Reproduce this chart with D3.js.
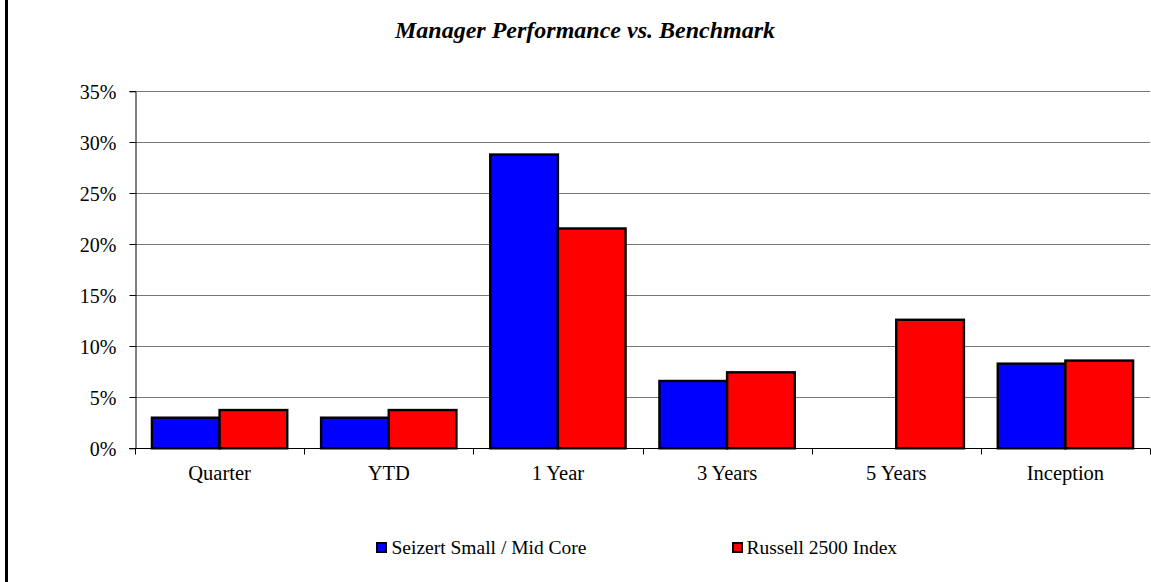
<!DOCTYPE html>
<html>
<head>
<meta charset="utf-8">
<script src="https://cdn.jsdelivr.net/npm/d3@7"></script>
<style>
  html, body { margin: 0; padding: 0; background: #fff; }
  svg { display: block; }
  text { font-family: "Liberation Serif", "Times New Roman", serif; fill: #000; }
</style>
</head>
<body>
<svg id="chart" width="1151" height="582"></svg>
<script>
const categories = ["Quarter", "YTD", "1 Year", "3 Years", "5 Years", "Inception"];
const seriesNames = ["Seizert Small / Mid Core", "Russell 2500 Index"];
const seizertValues = [3.0, 3.0, 28.8, 6.6, null, 8.3];
const russellValues = [3.75, 3.75, 21.55, 7.45, 12.6, 8.6];
const yTicks = [0, 5, 10, 15, 20, 25, 30, 35];
const colors = ["#0000FF", "#FF0000"];

(function () {
const svg = d3.select("#chart");
const W = 1151, H = 582;
const plotLeft = 135, plotRight = 1150, plotTop = 91.3, plotBottom = 448.3;

// left frame border
svg.append("rect").attr("x", 5).attr("y", 0).attr("width", 3).attr("height", H).attr("fill", "#000");

// title
svg.append("text")
  .attr("x", 585).attr("y", 38)
  .attr("text-anchor", "middle")
  .style("font-size", "24px").style("font-weight", "bold").style("font-style", "italic")
  .text("Manager Performance vs. Benchmark");

const x = d3.scaleBand().domain(categories).range([plotLeft, plotRight]).paddingInner(0).paddingOuter(0);
const xs = d3.scaleBand().domain(seriesNames).range([0, x.bandwidth()]).paddingInner(0).paddingOuter(0.25);
const y = d3.scaleLinear().domain([0, 35]).range([plotBottom, plotTop]);

// gridlines
svg.append("g").selectAll("line").data(yTicks.filter(d => d > 0)).join("line")
  .attr("x1", plotLeft).attr("x2", plotRight)
  .attr("y1", d => Math.round(y(d)) + 0.5).attr("y2", d => Math.round(y(d)) + 0.5)
  .attr("stroke", "#777").attr("stroke-width", 1);

// y axis
const yAxis = d3.axisLeft(y).tickValues(yTicks).tickFormat(d => d + "%").tickSize(6).tickPadding(13);
const gy = svg.append("g").attr("transform", `translate(${plotLeft + 0.5},0)`).call(yAxis);
gy.select(".domain").attr("stroke", "#000");
gy.selectAll(".tick line").attr("stroke", "#000");
gy.selectAll(".tick text").style("font-size", "20px").attr("dy", "0.35em")
  .style("font-family", "'Liberation Serif', serif");
gy.selectAll(".tick").attr("transform", d => `translate(0,${Math.round(y(d)) + 0.5})`);

// bars
const data = categories.map((c, i) => ({ cat: c, vals: [seizertValues[i], russellValues[i]] }));
const groups = svg.append("g").selectAll("g").data(data).join("g")
  .attr("transform", d => `translate(${x(d.cat)},0)`);
groups.selectAll("rect")
  .data(d => d.vals.map((v, j) => ({ v, j })).filter(e => e.v !== null))
  .join("rect")
  .attr("x", e => xs(seriesNames[e.j]))
  .attr("width", xs.bandwidth())
  .attr("y", e => y(e.v))
  .attr("height", e => y(0) - y(e.v))
  .attr("fill", e => colors[e.j])
  .attr("stroke", "#000").attr("stroke-width", 2.4);

// x axis
const gx = svg.append("g").attr("transform", `translate(0,${Math.round(plotBottom) + 0.5})`);
gx.append("line").attr("x1", plotLeft - 6).attr("x2", plotRight).attr("stroke", "#000");
const boundaries = categories.map(c => x(c)).concat([plotRight]);
gx.selectAll("line.tk").data(boundaries).join("line").attr("class", "tk")
  .attr("x1", d => Math.round(d) + 0.5).attr("x2", d => Math.round(d) + 0.5)
  .attr("y1", 0).attr("y2", 6).attr("stroke", "#000");
gx.selectAll("text").data(categories).join("text")
  .attr("x", d => x(d) + x.bandwidth() / 2).attr("y", 31.5)
  .attr("text-anchor", "middle").style("font-size", "20.5px").text(d => d);

// legend
const legendX = [376, 732];
const lg = svg.append("g").selectAll("g").data(seriesNames).join("g")
  .attr("transform", (d, i) => `translate(${legendX[i]},0)`);
lg.append("rect").attr("x", 1).attr("y", 543).attr("width", 9).attr("height", 9)
  .attr("fill", (d, i) => colors[i]).attr("stroke", "#000").attr("stroke-width", 2);
lg.append("text").attr("x", (d, i) => i === 0 ? 15.5 : 14.5).attr("y", 554).style("font-size", "19.5px").text(d => d);
})();
</script>
</body>
</html>
